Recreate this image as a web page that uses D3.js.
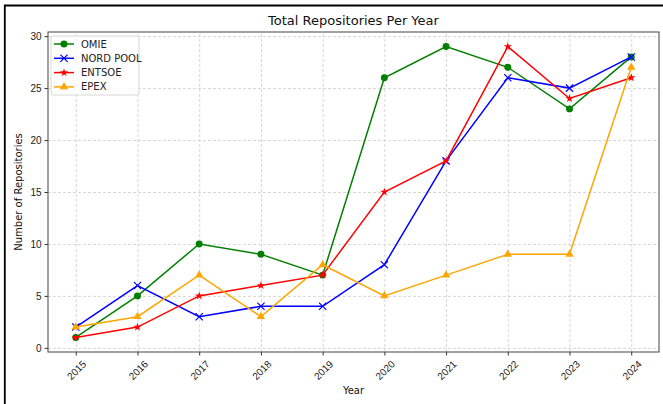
<!DOCTYPE html>
<html>
<head>
  <meta charset="utf-8">
  <title>Total Repositories Per Year</title>
  <style>
    body { margin: 0; background: #fff; }
    svg { display: block; font-family: "DejaVu Sans", sans-serif; }
    .grid line { stroke: #cccccc; stroke-dasharray: 3,2; stroke-width: 0.8; }
    .grid path { display: none; }
    .axis text { font-size: 10px; fill: #222; }
    .axis line { stroke: #333; }
    .axis path { display: none; }
  </style>
</head>
<body>
  <svg width="663" height="404"></svg>
  <script src="https://d3js.org/d3.v7.min.js"></script>
  <script>
    // values
    var years = [2015, 2016, 2017, 2018, 2019, 2020, 2021, 2022, 2023, 2024];
    var omie = [1, 5, 10, 9, 7, 26, 29, 27, 23, 28];
    var nordPool = [2, 6, 3, 4, 4, 8, 18, 26, 25, 28];
    var entsoe = [1, 2, 5, 6, 7, 15, 18, 29, 24, 26];
    var epex = [2, 3, 7, 3, 8, 5, 7, 9, 9, 27];
    var yTicks = [0, 5, 10, 15, 20, 25, 30];

    var series = [
      { name: 'OMIE', values: omie, color: 'green', marker: 'circle' },
      { name: 'NORD POOL', values: nordPool, color: 'blue', marker: 'x' },
      { name: 'ENTSOE', values: entsoe, color: 'red', marker: 'star' },
      { name: 'EPEX', values: epex, color: 'orange', marker: 'triangle' }
    ];

    var svg = d3.select('svg');
    // plot box (note: "top" is reserved on window, so use other names)
    var plotLeft = 48, plotRight = 659, plotTop = 32, plotBottom = 352;

    // frame around the screenshot
    svg.append('path')
      .attr('d', 'M4.8,404 L4.8,5.5 L663,5.5')
      .attr('fill', 'none').attr('stroke', '#000').attr('stroke-width', 1.8);

    var x = d3.scaleLinear()
      .domain([2015 - 0.45, 2024 + 0.45])
      .range([plotLeft, plotRight]);
    var y = d3.scaleLinear()
      .domain([-0.4, 30.4])
      .range([plotBottom, plotTop]);

    // grid
    svg.append('g').attr('class', 'grid')
      .attr('transform', 'translate(0,' + plotBottom + ')')
      .call(d3.axisBottom(x).tickValues(years).tickSize(-(plotBottom - plotTop)).tickFormat(''));
    svg.append('g').attr('class', 'grid')
      .attr('transform', 'translate(' + plotLeft + ',0)')
      .call(d3.axisLeft(y).tickValues(yTicks).tickSize(-(plotRight - plotLeft)).tickFormat(''));

    // axes
    var xAxis = svg.append('g').attr('class', 'axis')
      .attr('transform', 'translate(0,' + plotBottom + ')')
      .call(d3.axisBottom(x).tickValues(years).tickFormat(d3.format('d')).tickSize(3.5).tickPadding(3));
    xAxis.selectAll('text')
      .attr('text-anchor', 'end')
      .attr('dy', '0.3em')
      .attr('transform', 'translate(4,6) rotate(-45)');

    svg.append('g').attr('class', 'axis')
      .attr('transform', 'translate(' + plotLeft + ',0)')
      .call(d3.axisLeft(y).tickValues(yTicks).tickSize(3.5).tickPadding(3));

    svg.append('rect')
      .attr('x', plotLeft).attr('y', plotTop)
      .attr('width', plotRight - plotLeft).attr('height', plotBottom - plotTop)
      .attr('fill', 'none').attr('stroke', '#444').attr('stroke-width', 1);

    var line = d3.line()
      .x(function(d, i) { return x(years[i]); })
      .y(function(d) { return y(d); });

    var symbols = {
      circle: d3.symbol().type(d3.symbolCircle).size(38),
      x: d3.symbol().type(d3.symbolTimes).size(36),
      star: d3.symbol().type(d3.symbolStar).size(22),
      triangle: d3.symbol().type(d3.symbolTriangle).size(30)
    };

    function drawMarker(g, s, cx, cy) {
      var m = g.append('path')
        .attr('d', symbols[s.marker]())
        .attr('transform', 'translate(' + cx + ',' + cy + ')');
      if (s.marker === 'x') {
        m.attr('fill', 'none').attr('stroke', s.color).attr('stroke-width', 1.2);
      } else {
        m.attr('fill', s.color);
      }
    }

    series.forEach(function(s) {
      var g = svg.append('g');
      g.append('path')
        .datum(s.values)
        .attr('d', line)
        .attr('fill', 'none')
        .attr('stroke', s.color)
        .attr('stroke-width', 1.5);
      s.values.forEach(function(v, i) {
        drawMarker(g, s, x(years[i]), y(v));
      });
    });

    // legend
    var legend = svg.append('g').attr('transform', 'translate(51,36)');
    legend.append('rect')
      .attr('width', 88).attr('height', 59).attr('rx', 2)
      .attr('fill', '#fff').attr('fill-opacity', 0.8)
      .attr('stroke', '#d8d8d8');
    series.forEach(function(s, i) {
      var ly = 8 + i * 14.3;
      legend.append('line')
        .attr('x1', 3).attr('x2', 23).attr('y1', ly).attr('y2', ly)
        .attr('stroke', s.color).attr('stroke-width', 1.5);
      drawMarker(legend, s, 13, ly);
      legend.append('text')
        .attr('x', 30).attr('y', ly).attr('dy', '0.35em')
        .attr('font-size', 10).attr('fill', '#222')
        .text(s.name);
    });

    // title and labels
    svg.append('text')
      .attr('x', (plotLeft + plotRight) / 2).attr('y', 25)
      .attr('text-anchor', 'middle')
      .attr('font-size', 13).attr('fill', '#111')
      .text('Total Repositories Per Year');
    svg.append('text')
      .attr('x', (plotLeft + plotRight) / 2).attr('y', 394)
      .attr('text-anchor', 'middle')
      .attr('font-size', 10).attr('fill', '#111')
      .text('Year');
    svg.append('text')
      .attr('transform', 'translate(22,' + ((plotTop + plotBottom) / 2) + ') rotate(-90)')
      .attr('text-anchor', 'middle')
      .attr('font-size', 10).attr('fill', '#111')
      .text('Number of Repositories');
  </script>
</body>
</html>
